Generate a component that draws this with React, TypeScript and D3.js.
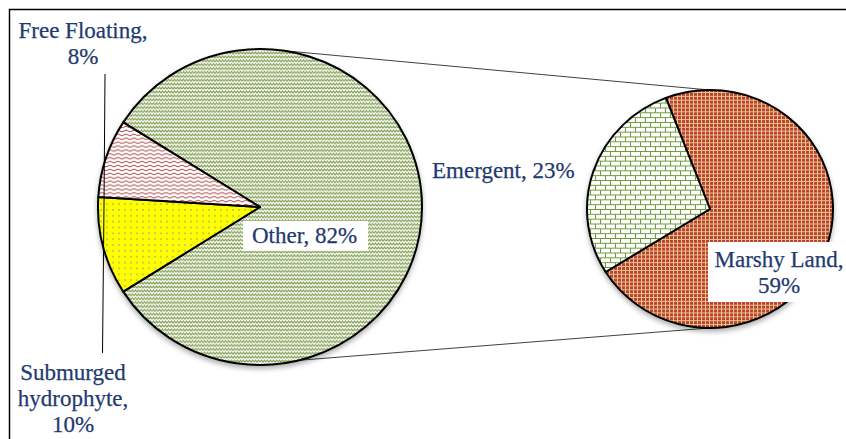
import React, { useEffect, useRef } from 'react';
import * as d3 from 'd3';

// main pie: share of total, "Other" is split out into the secondary pie
const MAIN_LABELS = ['Other', 'Submurged hydrophyte', 'Free Floating'];
const MAIN_VALUES = [82, 10, 8];
const MAIN_FILLS = ['url(#pOther)', 'url(#pSub)', 'url(#pFree)'];

// secondary pie: breakdown of "Other"
const SUB_LABELS = ['Marshy Land', 'Emergent'];
const SUB_VALUES = [59, 23];
const SUB_FILLS = ['url(#pMarsh)', 'url(#pEmer)'];

const TEXT = '#1F3A70';
const FONT = '"Liberation Serif", "Times New Roman", serif';

export default function App() {
  const ref = useRef<SVGSVGElement>(null);

  useEffect(() => {
    const svg = d3.select(ref.current);
    svg.selectAll('*').remove();

    const defs = svg.append('defs');

    // zig zag (Other)
    const zz = defs.append('pattern').attr('id', 'pOther').attr('patternUnits', 'userSpaceOnUse').attr('width', 6).attr('height', 4);
    zz.append('rect').attr('width', 6).attr('height', 4).attr('fill', '#fff');
    zz.append('path').attr('d', 'M0,3 L1.5,1 L3,3 L4.5,1 L6,3').attr('fill', 'none').attr('stroke', '#88A35A').attr('stroke-width', 1.25);

    // wave (Free Floating)
    const wv = defs.append('pattern').attr('id', 'pFree').attr('patternUnits', 'userSpaceOnUse').attr('width', 8).attr('height', 4);
    wv.append('rect').attr('width', 8).attr('height', 4).attr('fill', '#fff');
    wv.append('path').attr('d', 'M0,2 Q2,0.3 4,2 T8,2').attr('fill', 'none').attr('stroke', '#A8403E').attr('stroke-width', 1);

    // dots on yellow (Submurged)
    const dt = defs.append('pattern').attr('id', 'pSub').attr('patternUnits', 'userSpaceOnUse').attr('width', 6).attr('height', 6);
    dt.append('rect').attr('width', 6).attr('height', 6).attr('fill', '#FFFF00');
    dt.append('circle').attr('cx', 3).attr('cy', 3).attr('r', 0.7).attr('fill', '#5A7FC8');

    // small grid (Marshy Land)
    const gr = defs.append('pattern').attr('id', 'pMarsh').attr('patternUnits', 'userSpaceOnUse').attr('width', 4).attr('height', 4);
    gr.append('rect').attr('width', 4).attr('height', 4).attr('fill', '#F3C47E');
    gr.append('rect').attr('width', 3).attr('height', 3).attr('fill', '#B4433D');

    // brick (Emergent)
    const br = defs.append('pattern').attr('id', 'pEmer').attr('patternUnits', 'userSpaceOnUse').attr('width', 10).attr('height', 10);
    br.append('rect').attr('width', 10).attr('height', 10).attr('fill', '#fff');
    br.append('path').attr('d', 'M0,0.5 H10 M0,5.5 H10 M0.5,0 V5.5 M5.5,5.5 V10').attr('fill', 'none').attr('stroke', '#6F9A3A').attr('stroke-width', 1.1);

    const shadow = defs.append('filter').attr('id', 'shadow').attr('x', '-10%').attr('y', '-10%').attr('width', '120%').attr('height', '125%');
    shadow.append('feDropShadow').attr('dx', 0).attr('dy', 3).attr('stdDeviation', 2.5).attr('flood-color', '#000').attr('flood-opacity', 0.3);

    // chart area border (runs past the right and bottom of the picture)
    svg.append('rect').attr('x', 9.5).attr('y', 9.5).attr('width', 900).attr('height', 500)
      .attr('fill', '#fff').attr('stroke', '#000').attr('stroke-width', 1.5);

    const main = { cx: 260, cy: 207, r: 162, sy: 0.975 };
    const sub = { cx: 710, cy: 209, r: 123, sy: 0.967 };

    const total = d3.sum(MAIN_VALUES);
    const mainStart = Math.PI / 2 - (MAIN_VALUES[0] / total) * Math.PI;
    const mainPie = d3.pie<number>().sort(null).startAngle(mainStart).endAngle(mainStart + 2 * Math.PI);
    const subStart = (-21 * Math.PI) / 180;
    const subPie = d3.pie<number>().sort(null).startAngle(subStart).endAngle(subStart + 2 * Math.PI);

    const pt = (c: typeof main, a: number) => [c.cx + c.r * Math.sin(a), c.cy - c.r * c.sy * Math.cos(a)];

    // connector lines between the pies
    const conn = [
      [pt(main, (8 * Math.PI) / 180), pt(sub, 0)],
      [pt(main, (166 * Math.PI) / 180), pt(sub, Math.PI)],
    ];
    svg.selectAll('line.conn').data(conn).join('line').attr('class', 'conn')
      .attr('x1', (d) => d[0][0]).attr('y1', (d) => d[0][1])
      .attr('x2', (d) => d[1][0]).attr('y2', (d) => d[1][1])
      .attr('stroke', '#404040').attr('stroke-width', 1);

    const drawPie = (c: typeof main, arcs: d3.PieArcDatum<number>[], fills: string[]) => {
      const g = svg.append('g').attr('filter', 'url(#shadow)')
        .append('g').attr('transform', `translate(${c.cx},${c.cy}) scale(1,${c.sy})`);
      const arc = d3.arc<d3.PieArcDatum<number>>().innerRadius(0).outerRadius(c.r);
      g.selectAll('path').data(arcs).join('path')
        .attr('d', arc)
        .attr('fill', (_, i) => fills[i])
        .attr('stroke', '#000').attr('stroke-width', 2).attr('stroke-linejoin', 'round');
    };
    drawPie(main, mainPie(MAIN_VALUES), MAIN_FILLS);
    drawPie(sub, subPie(SUB_VALUES), SUB_FILLS);

    // leader lines for the two small slices
    svg.append('line').attr('x1', 105).attr('y1', 74).attr('x2', 104).attr('y2', 205).attr('stroke', '#000').attr('stroke-width', 1);
    svg.append('line').attr('x1', 104).attr('y1', 205).attr('x2', 102.5).attr('y2', 353).attr('stroke', '#000').attr('stroke-width', 1);

    // label boxes
    svg.append('rect').attr('x', 243).attr('y', 221).attr('width', 125).attr('height', 30).attr('fill', '#fff');
    svg.append('rect').attr('x', 708).attr('y', 242).attr('width', 140).attr('height', 60).attr('fill', '#fff');

    const labels: { lines: string[]; x: number; y: number; anchor: string }[] = [
      { lines: [`${MAIN_LABELS[2]},`, `${MAIN_VALUES[2]}%`], x: 83, y: 38, anchor: 'middle' },
      { lines: ['Submurged', 'hydrophyte,', `${MAIN_VALUES[1]}%`], x: 73, y: 380, anchor: 'middle' },
      { lines: [`${MAIN_LABELS[0]}, ${MAIN_VALUES[0]}%`], x: 252, y: 243, anchor: 'start' },
      { lines: [`${SUB_LABELS[1]}, ${SUB_VALUES[1]}%`], x: 432, y: 178, anchor: 'start' },
      { lines: [`${SUB_LABELS[0]},`, `${SUB_VALUES[0]}%`], x: 779, y: 267, anchor: 'middle' },
    ];
    labels.forEach((l) => {
      const t = svg.append('text').attr('x', l.x).attr('y', l.y).attr('text-anchor', l.anchor)
        .attr('fill', TEXT).attr('font-family', FONT).attr('font-size', 23)
        .attr('stroke', TEXT).attr('stroke-width', 0.25);
      l.lines.forEach((s, i) => {
        t.append('tspan').attr('x', l.x).attr('dy', i === 0 ? 0 : 26).text(s);
      });
    });
  }, []);

  return (
    <svg
      ref={ref}
      width={846}
      height={439}
      style={{ position: 'absolute', left: 0, top: 0, background: '#fff' }}
    />
  );
}
